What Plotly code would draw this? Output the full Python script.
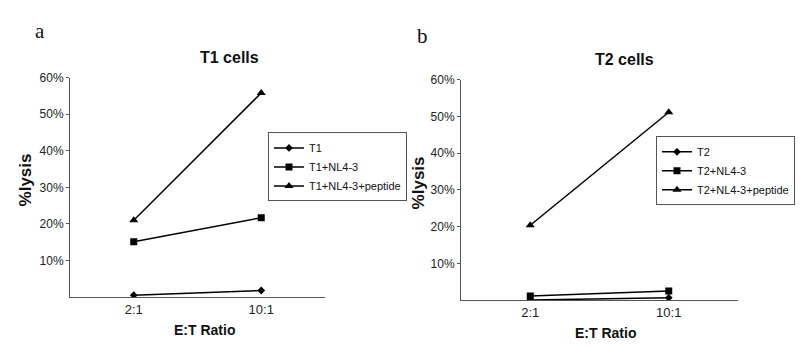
import plotly.graph_objects as go

categories = ["2:1", "10:1"]
t1_names = ["T1", "T1+NL4-3", "T1+NL4-3+peptide"]
t1_values = [[0.5, 1.8], [15.1, 21.7], [21.0, 55.8]]
t2_names = ["T2", "T2+NL4-3", "T2+NL4-3+peptide"]
t2_values = [[0.1, 0.7], [1.2, 2.5], [20.4, 51.1]]
ytick_vals = [10, 20, 30, 40, 50, 60]
ytick_text = ["10%", "20%", "30%", "40%", "50%", "60%"]

symbols = ["diamond", "square", "triangle-up"]
sizes = [6, 7, 8]

fig = go.Figure()
for name, vals, sym, sz in zip(t1_names, t1_values, symbols, sizes):
    fig.add_trace(go.Scatter(x=categories, y=vals, name=name, mode="lines+markers",
                             line=dict(color="black", width=1.5),
                             marker=dict(symbol=sym, size=sz, color="black"),
                             xaxis="x", yaxis="y", legend="legend"))
for name, vals, sym, sz in zip(t2_names, t2_values, symbols, sizes):
    fig.add_trace(go.Scatter(x=categories, y=vals, name=name, mode="lines+markers",
                             line=dict(color="black", width=1.5),
                             marker=dict(symbol=sym, size=sz, color="black"),
                             xaxis="x2", yaxis="y2", legend="legend2"))

tickfont = dict(family="Arial", size=12, color="#222")
xax = dict(type="category", range=[-0.5, 1.5], showline=True, linecolor="#555", linewidth=1,
           ticks="", showgrid=False, zeroline=False, tickfont=dict(tickfont, size=13))
yax = dict(range=[0, 60], tickmode="array", tickvals=ytick_vals, ticktext=ytick_text,
           showline=True, linecolor="#555",
           linewidth=1, ticks="outside", ticklen=3, tickcolor="#555", showgrid=False,
           zeroline=False, tickfont=tickfont)

legfont = dict(family="Arial", size=11, color="#111")
fig.update_layout(
    width=800, height=350,
    margin=dict(l=0, r=0, t=0, b=0),
    paper_bgcolor="white", plot_bgcolor="white",
    xaxis=dict(xax, domain=[70/800, 325/800], anchor="y"),
    yaxis=dict(yax, domain=[1-296/350, 1-72/350], anchor="x"),
    xaxis2=dict(xax, domain=[461/800, 738/800], anchor="y2"),
    yaxis2=dict(yax, domain=[1-299.3/350, 1-74/350], anchor="x2"),
    legend=dict(x=268/800, y=1-128/350, xanchor="left", yanchor="top",
                bordercolor="#555", borderwidth=1, bgcolor="white",
                font=legfont, itemwidth=30, tracegroupgap=0, itemclick=False,
                entrywidth=100, entrywidthmode="pixels"),
    legend2=dict(x=795/800, y=1-132/350, xanchor="right", yanchor="top",
                 bordercolor="#555", borderwidth=1, bgcolor="white",
                 font=legfont, itemwidth=30, tracegroupgap=0, itemclick=False,
                 entrywidth=100, entrywidthmode="pixels"),
    showlegend=True,
)

bold = dict(family="Arial", size=16, color="#111")
ann = [
    dict(text="a", x=40/800, y=1-25/350, font=dict(family="Liberation Serif, Times New Roman", size=21, color="#111")),
    dict(text="b", x=422/800, y=1-30/350, font=dict(family="Liberation Serif, Times New Roman", size=21, color="#111")),
    dict(text="<b>T1 cells</b>", x=230/800, y=1-52/350, font=bold),
    dict(text="<b>T2 cells</b>", x=624/800, y=1-54/350, font=bold),
    dict(text="<b>%lysis</b>", x=25/800, y=1-177/350, textangle=-90, font=dict(bold, size=17)),
    dict(text="<b>%lysis</b>", x=418/800, y=1-180/350, textangle=-90, font=dict(bold, size=17)),
    dict(text="<b>E:T Ratio</b>", x=205/800, y=1-330/350, font=dict(bold, size=14)),
    dict(text="<b>E:T Ratio</b>", x=605/800, y=1-333/350, font=dict(bold, size=14)),
]
for a in ann:
    a.update(xref="paper", yref="paper", showarrow=False, xanchor="center", yanchor="middle")
fig.update_layout(annotations=ann)

fig.write_html("out.html", config={"displayModeBar": False},
               post_script="document.body.style.margin='0';")
